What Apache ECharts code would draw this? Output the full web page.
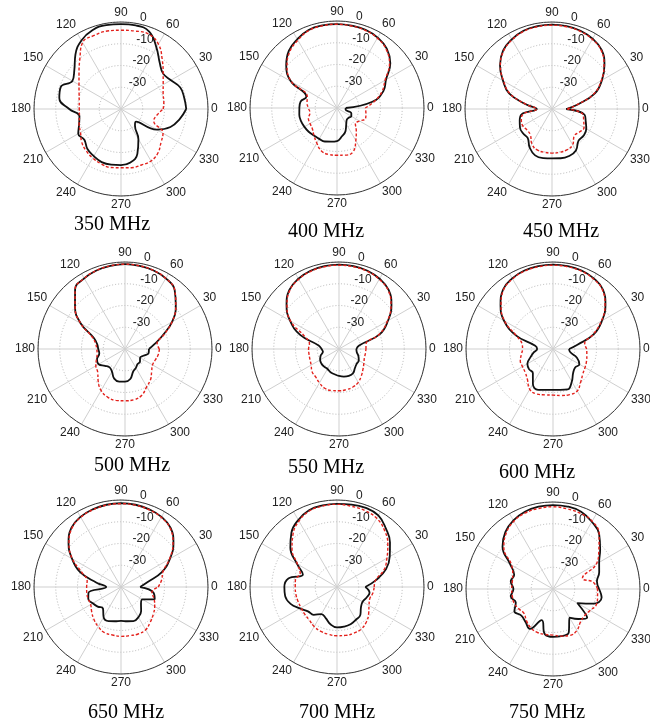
<!DOCTYPE html>
<html><head><meta charset="utf-8">
<script src="https://cdn.jsdelivr.net/npm/echarts@6/dist/echarts.min.js"></script>
<style>html,body{margin:0;padding:0;background:#fff}#c{width:650px;height:721px}</style>
</head><body><div id="c"></div>
<script>
// Angles (degrees) at which the patterns are sampled
const angles = [0,10,20,30,40,50,60,70,80,90,100,110,120,130,140,150,160,170,180,190,200,210,220,230,240,250,260,270,280,290,300,310,320,330,340,350];
const freqLabels = ['350 MHz','400 MHz','450 MHz','500 MHz','550 MHz','600 MHz','650 MHz','700 MHz','750 MHz'];
const angleTicks = [0,30,60,90,120,150,180,210,240,270,300,330];
const ringTicks = [-40,-30,-20,-10,0];

// Normalised gain (dB): black solid curves
const b350 = [-10,-10.5,-11,-13.5,-14.7,-12.3,-7.4,-2.1,-1,-1,-0.8,-1.5,-3.6,-7.4,-12,-14.2,-10.5,-11.2,-16.2,-20.6,-19.5,-17.3,-18,-16,-15,-14,-14,-14.2,-15,-18,-24,-30,-31,-21,-15.8,-12.7];
const b400 = [-36,-23.5,-17.3,-14,-8,-4.4,-2.6,-1.7,-1.5,-1.4,-1.4,-1.8,-3.5,-5.6,-9.5,-15.5,-25,-23,-22.7,-22.4,-22.4,-22.7,-23,-23.5,-23.6,-23.6,-24.3,-24.8,-26.8,-28.6,-31.5,-33,-33,-32.4,-33,-36];
const b450 = [-33.5,-28,-19,-13.5,-8.5,-4.5,-2.7,-1.7,-1.3,-1.2,-1.3,-1.7,-3,-5,-8.8,-14,-19,-28,-33,-25.8,-24.2,-23,-22.6,-22.6,-19.5,-17.3,-17.1,-17.3,-17,-17,-18,-21,-21,-21.8,-23.5,-24.8];
const b500 = [-29,-26,-21.5,-15,-9.5,-4.5,-2.5,-1.6,-1.2,-1,-1.2,-1.6,-2.5,-4.3,-10,-16.5,-24.6,-27,-27.7,-28,-26.3,-26,-28,-29,-28,-25.5,-24.8,-25,-26,-29,-30,-31,-31,-32,-31,-29];
const b550 = [-32,-30.6,-20,-14,-8.5,-4.5,-2.7,-1.7,-1.3,-1.2,-1.3,-1.7,-2.7,-4.5,-8.5,-14,-21,-30.5,-32,-32.5,-31,-30,-29.5,-29.4,-29.4,-28.6,-28.2,-27.6,-27.1,-26.8,-27.1,-28.6,-29.4,-29.5,-30.5,-31.7];
const b600 = [-32.6,-28.6,-20,-14,-8.5,-4.3,-2.5,-1.6,-1.3,-1.2,-1.3,-1.6,-2.5,-4.3,-8.5,-14,-22,-31.7,-32.7,-31,-29,-26.4,-25.6,-25.6,-21.5,-20,-20.9,-21.2,-20.9,-20.2,-22.7,-25.6,-26.7,-26,-28.3,-32];
const b650 = [-31.2,-27.9,-20,-14,-8.5,-4.5,-2.8,-2,-1.6,-1.5,-1.6,-2,-2.8,-4.5,-8.5,-14,-20,-28.6,-33.2,-24.8,-24,-25,-26,-27.1,-24,-23.3,-24,-24.4,-24,-23.3,-24,-25.6,-28,-28.6,-23.5,-24.8];
const b700 = [-27,-21.8,-16,-12,-8.2,-5,-2,-1.3,-1.5,-1.8,-1.9,-2.4,-4.4,-7.4,-12,-18.8,-23.3,-17.3,-15.8,-15.8,-17.3,-20.3,-22.6,-23.3,-25.6,-24.8,-22.6,-21.4,-21.5,-21.8,-22.6,-23.3,-25.6,-26.4,-25.6,-24.8];
const b750 = [-18.8,-19.5,-17.4,-15.5,-11.7,-7,-4.3,-2.2,-1.5,-1.4,-1.6,-2.2,-3.6,-5.9,-9.7,-17.3,-21,-20.3,-21.8,-20.3,-21.8,-19.5,-21,-20.3,-18.8,-24.8,-18.8,-18,-18,-18.8,-24.8,-22,-19.5,-27.1,-20.3,-17.3];

// Normalised gain (dB): red dashed curves
const r350 = [-20.6,-20,-19.4,-17.6,-14.7,-10.5,-5.6,-3.3,-3.6,-3.8,-3.6,-4,-4.7,-10.5,-14.8,-17.7,-19.5,-20.5,-20.8,-20.6,-19.5,-18.5,-16.4,-15,-14,-13.2,-12.7,-13,-12.6,-12.6,-12.4,-13.6,-16,-17.7,-24,-23.3];
const r400 = [-27,-22.6,-18,-14.5,-8.5,-4.8,-2.9,-2,-1.7,-1.5,-1.6,-2.1,-4,-6.2,-10,-15.8,-25.5,-26,-26.8,-27.4,-26,-25.7,-25.2,-23.5,-21.4,-19,-18.3,-18.3,-18,-18.5,-22.7,-26.2,-29,-28,-26,-26.5];
const r450 = [-33,-28,-19.5,-13.8,-8.8,-4.8,-3,-2,-1.6,-1.5,-1.6,-2,-3.3,-5.3,-9,-14.3,-19.5,-28,-33,-26.5,-25,-24.5,-25,-24.5,-21.5,-20,-19.8,-19.7,-19.8,-20,-21,-24,-23.5,-23,-24.5,-25.5];
const r500 = [-24.2,-25,-21,-15,-9.5,-4.5,-2.5,-1.6,-1.2,-1,-1.2,-1.6,-2.5,-4.3,-10,-16.5,-24,-26.3,-27,-27,-26,-24.5,-23.6,-20.8,-18,-16.5,-16,-16.2,-16.3,-17.4,-20,-21.7,-24,-25.4,-25.2,-24.5];
const r550 = [-27.6,-27.4,-20.3,-14.3,-8.8,-4.8,-3,-2,-1.6,-1.5,-1.6,-2,-3,-4.8,-8.8,-14.3,-23.3,-26.2,-26,-26,-25.8,-25.2,-23.8,-23.3,-22,-20.8,-20.6,-20.8,-21,-21.4,-22.3,-24,-25.6,-26.8,-27.6,-27.7];
const r600 = [-24.5,-25.2,-20.3,-14.3,-8.8,-4.6,-2.8,-1.9,-1.6,-1.5,-1.6,-1.9,-2.8,-4.6,-8.8,-14.3,-22,-25.5,-26,-25.2,-24,-23.8,-23.3,-21.7,-18.6,-18,-18.6,-18.8,-18.3,-17.7,-17.7,-20.2,-22.1,-23,-23.6,-24.2];
const r650 = [-22.9,-21,-19.5,-14.2,-8.8,-4.8,-3,-2.2,-1.8,-1.7,-1.8,-2.2,-3,-4.8,-8.8,-14.2,-21,-24.2,-24.2,-24,-24,-23.9,-22.4,-20.6,-19,-17.7,-17.6,-17.3,-17.3,-17,-17.3,-19,-20.6,-22.1,-23.8,-25.6];
const r700 = [-22.9,-22,-17,-13.5,-9.5,-6,-3.5,-2.6,-2.3,-2,-2.2,-2.8,-5,-8.5,-13,-19,-22,-20.6,-20.8,-20.8,-20.9,-20.9,-20.6,-20.2,-19,-18.3,-17.9,-17.6,-17.4,-17.4,-17.7,-19,-21,-23,-24,-23.3];
const r750 = [-19.5,-21.4,-25.6,-17,-12.5,-7,-4,-3,-2.6,-2.2,-2.4,-2.8,-4,-6.5,-10.5,-18,-20.3,-21,-21,-21,-21,-21.8,-22.6,-21,-19.5,-18.8,-18.8,-18.8,-18,-17.3,-18,-20.3,-21,-20.3,-18.8,-19.2];

const blackCurves = [b350,b400,b450,b500,b550,b600,b650,b700,b750];
const redCurves = [r350,r400,r450,r500,r550,r600,r650,r700,r750];

// Layout (pixels)
const centers = [[121,109],[337,108],[552,109],[125,349],[339,349],[553,349],[121,587],[337,587],[553,589]];
const titlePos = [[112,215],[326,222],[561,222],[132,456],[326,458],[537,463],[126,703],[337,703],[547,703]];
const R = 87;

const polar = [], angleAxis = [], radiusAxis = [], series = [], title = [];
const lblFont = {fontFamily:'Liberation Sans, Arial, sans-serif', fontSize:12, color:'#222'};

centers.forEach((c, i) => {
  polar.push({center: c, radius: R});
  polar.push({center: c, radius: R});
  angleAxis.push({
    polarIndex: 2*i, type:'value', min:0, max:360, interval:30, startAngle:0, clockwise:false,
    axisLine:{show:true, lineStyle:{color:'#3a3a3a', width:1}},
    axisTick:{show:false},
    splitLine:{show:true, lineStyle:{color:'#cfcfcf', width:1}},
    axisLabel:Object.assign({margin:3, formatter: v => angleTicks.indexOf(v) >= 0 ? String(v) : ''}, lblFont)
  });
  angleAxis.push({polarIndex: 2*i+1, type:'value', min:0, max:360, startAngle:80, clockwise:false, show:false});
  radiusAxis.push({
    polarIndex: 2*i, type:'value', min:-40, max:0, interval:10,
    axisLine:{show:false}, axisTick:{show:false}, axisLabel:{show:false},
    splitLine:{show:true, lineStyle:{color:'#b5b5b5', width:1, type:[1,2]}}
  });
  radiusAxis.push({
    polarIndex: 2*i+1, type:'value', min:-40, max:0, interval:10,
    axisLine:{show:false}, axisTick:{show:false}, splitLine:{show:false},
    axisLabel:Object.assign({margin:-4, align:'left', verticalAlign:'bottom',
      formatter: v => (v === ringTicks[0] ? '' : String(v))}, lblFont)
  });
  const mk = arr => {
    const d = angles.map((a, k) => [arr[k], a]);
    d.push([arr[0], 360]);
    return d;
  };
  series.push({type:'line', coordinateSystem:'polar', polarIndex:2*i, data: mk(blackCurves[i]),
    showSymbol:false, smooth:0.45, silent:true, z:3,
    lineStyle:{color:'#111', width:1.8}});
  series.push({type:'line', coordinateSystem:'polar', polarIndex:2*i, data: mk(redCurves[i]),
    showSymbol:false, smooth:0.45, silent:true, z:4,
    lineStyle:{color:'#e3211c', width:1.4, type:[3,2]}});
  title.push({text: freqLabels[i], left: titlePos[i][0], top: titlePos[i][1], textAlign:'center', padding:0,
    textStyle:{fontFamily:'Liberation Serif, Times New Roman, serif', fontSize:20, fontWeight:'normal', color:'#000'}});
});

const chart = echarts.init(document.getElementById('c'), null, {renderer:'canvas'});
chart.setOption({animation:false, backgroundColor:'#fff', title, polar, angleAxis, radiusAxis, series});
</script>
</body></html>
